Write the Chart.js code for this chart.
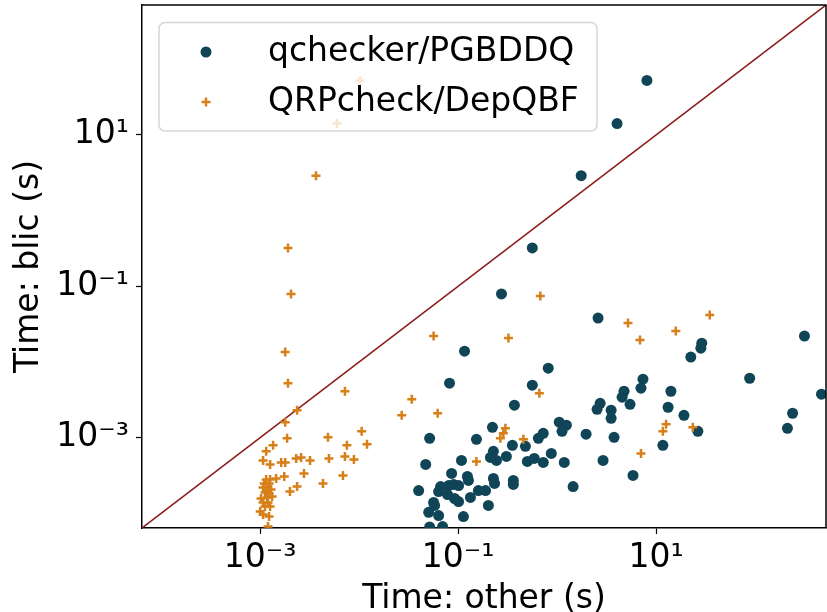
<!DOCTYPE html>
<html>
<head>
<meta charset="utf-8">
<script src="https://cdn.jsdelivr.net/npm/chart.js@4.4.1/dist/chart.umd.min.js"></script>
<style>
  html, body { margin: 0; padding: 0; background: #fff; }
  #wrap { width: 827px; height: 612px; }
</style>
</head>
<body>
<div id="wrap"><canvas id="timeChart" width="827" height="612"></canvas></div>
<script>
// qchecker/PGBDDQ times (other, blic)
var qcheckerX = [
  8.07, 4.03, 1.75, 0.561, 0.274, 2.59, 0.116, 0.813, 0.0818, 0.561,
  4.74, 4.53, 7.36, 7.03, 14.1, 22.4, 28.3, 28.9, 88.1, 315,
  468, 0.370, 5.45, 2.72, 2.53, 3.51, 3.51, 13.2, 19.1, 239,
  212, 26.4, 11.7, 3.76, 2.91, 5.84, 1.96, 1.18, 1.45, 1.05,
  1.24, 1.12, 0.724, 0.646, 0.873, 0.724, 0.478, 0.587, 0.500, 0.353,
  0.307, 0.361, 0.361, 0.222, 0.153, 0.227, 0.212, 0.244, 0.227, 0.233,
  0.108, 0.0859, 0.124, 0.127, 0.0515, 0.0470, 0.0399, 0.0665, 0.0635, 0.0800,
  0.0900, 0.101, 0.0782, 0.0920, 0.101, 0.133, 0.160, 0.189, 0.202, 0.0565,
  0.0578, 0.0504, 0.0635, 0.113, 0.0515, 0.0697
];
var qcheckerY = [
  52.4, 14.1, 2.89, 0.321, 0.0791, 0.0380, 0.0139, 0.00828, 0.00524, 0.00493,
  0.00410, 0.00342, 0.00592, 0.00450, 0.00410, 0.0116, 0.0152, 0.0177, 0.00609, 0.0220,
  0.00375, 0.00268, 0.00276, 0.00284, 0.00237, 0.00230, 0.00180, 0.00252, 0.00197, 0.00210,
  0.00133, 0.00121, 0.000791, 0.00101, 0.000500, 0.000317, 0.00111, 0.000471, 0.000226, 0.00160,
  0.00146, 0.00121, 0.00114, 0.000979, 0.000619, 0.000471, 0.000767, 0.000532, 0.000485, 0.000791,
  0.000565, 0.000272, 0.000241, 0.00137, 0.000949, 0.000659, 0.000548, 0.000500, 0.000289, 0.000248,
  0.000500, 0.000337, 0.000307, 0.000272, 0.000979, 0.000443, 0.000200, 0.000226, 0.000194, 0.000233,
  0.000241, 0.000233, 0.000177, 0.000157, 0.000143, 0.000162, 0.000200, 0.000200, 0.000127, 0.000139,
  0.000127, 0.000103, 0.0000935, 0.0000907, 0.0000660, 0.0000669
];

// QRPcheck/DepQBF times (other, blic)
var qrpX = [
  0.0102, 0.00596, 0.00366, 0.00191, 0.00205, 0.00179, 0.00191, 0.00718, 0.0565, 0.0340,
  0.676, 0.322, 5.20, 6.87, 15.8, 34.8, 0.661, 0.0269, 0.0621, 0.300,
  0.286, 0.267, 0.456, 0.153, 12.6, 11.7, 23.5, 7.03, 0.00236, 0.00179,
  0.00187, 0.00484, 0.0106, 0.00752, 0.0120, 0.00495, 0.00718, 0.00885, 0.00135, 0.00115,
  0.00107, 0.00126, 0.00163, 0.00179, 0.00231, 0.00259, 0.00319, 0.00277, 0.00686, 0.00431,
  0.00175, 0.00145, 0.00236, 0.00200, 0.00115, 0.00126, 0.00110, 0.00123, 0.00107, 0.00118,
  0.00129, 0.00112, 0.00123, 0.00102, 0.00118, 0.00132, 0.00107, 0.00120, 0.00112, 0.00126,
  0.00100, 0.00107, 0.00123, 0.00120
];
var qrpY = [
  52.4, 14.1, 2.89, 0.321, 0.0791, 0.0135, 0.00524, 0.00410, 0.0220, 0.00321,
  0.0745, 0.0207, 0.0327, 0.0195, 0.0256, 0.0417, 0.00386, 0.00197, 0.00210, 0.00133,
  0.00114, 0.000979, 0.000949, 0.000485, 0.00150, 0.00121, 0.00137, 0.000619, 0.00230, 0.00160,
  0.000979, 0.00101, 0.00121, 0.000791, 0.000815, 0.000532, 0.000565, 0.000516, 0.000791, 0.000659,
  0.000500, 0.000443, 0.000471, 0.000471, 0.000532, 0.000548, 0.000500, 0.000337, 0.000317, 0.000248,
  0.000307, 0.000289, 0.000226, 0.000194, 0.000280, 0.000280, 0.000248, 0.000248, 0.000220, 0.000220,
  0.000207, 0.000189, 0.000183, 0.000157, 0.000162, 0.000167, 0.000139, 0.000139, 0.000123, 0.000123,
  0.000106, 0.0000964, 0.0000907, 0.0000669
];

var axisRange = [6.4e-5, 520];
var tickValues = [1e-3, 1e-1, 1e1];
var tickLabels = ['10\u207B\u00B3', '10\u207B\u00B9', '10\u00B9'];

var toPoints = function(xs, ys) {
  let pts = [];
  xs.forEach((x, i) => {
    pts.push({x: x, y: ys[i]});
  });
  return pts;
};

Chart.defaults.font.family = "'DejaVu Sans', sans-serif";
Chart.defaults.color = '#000';

// top and right spines
var frame = {
  id: 'frame',
  afterDatasetsDraw: function(chart) {
    var a = chart.chartArea, ctx = chart.ctx;
    ctx.save();
    ctx.strokeStyle = '#000';
    ctx.lineWidth = 1.5;
    ctx.beginPath();
    ctx.moveTo(a.left, a.top);
    ctx.lineTo(a.right, a.top);
    ctx.lineTo(a.right, a.bottom);
    ctx.stroke();
    ctx.restore();
  }
};

// matplotlib style legend box in upper left
var legendBox = {
  id: 'legendBox',
  afterDatasetsDraw: function(chart) {
    var ctx = chart.ctx;
    var x = 159, y = 22.5, w = 438, h = 108.5, r = 6;
    ctx.save();
    ctx.beginPath();
    ctx.moveTo(x + r, y);
    ctx.lineTo(x + w - r, y);
    ctx.arcTo(x + w, y, x + w, y + r, r);
    ctx.lineTo(x + w, y + h - r);
    ctx.arcTo(x + w, y + h, x + w - r, y + h, r);
    ctx.lineTo(x + r, y + h);
    ctx.arcTo(x, y + h, x, y + h - r, r);
    ctx.lineTo(x, y + r);
    ctx.arcTo(x, y, x + r, y, r);
    ctx.closePath();
    ctx.fillStyle = 'rgba(255,255,255,0.8)';
    ctx.fill();
    ctx.strokeStyle = 'rgba(204,204,204,0.8)';
    ctx.lineWidth = 1.5;
    ctx.stroke();

    var rows = [52, 102];
    [0, 1].forEach(i => {
      var ds = chart.data.datasets[i];
      ctx.fillStyle = ds.backgroundColor;
      ctx.strokeStyle = ds.borderColor;
      ctx.lineWidth = ds.borderWidth;
      Chart.helpers.drawPoint(ctx, {
        pointStyle: ds.pointStyle, rotation: 0,
        radius: ds.pointRadius, borderWidth: ds.borderWidth
      }, 206, rows[i]);
      ctx.fillStyle = '#000';
      ctx.font = "33px 'DejaVu Sans'";
      ctx.textAlign = 'left';
      ctx.textBaseline = 'alphabetic';
      ctx.fillText(ds.label, 268, rows[i] + 8.5);
    });
    ctx.restore();
  }
};

var logAxis = function(title, titlePad, horizontal) {
  return {
    type: 'logarithmic',
    min: axisRange[0],
    max: axisRange[1],
    afterBuildTicks: function(scale) {
      scale.ticks = tickValues.map(v => ({value: v}));
    },
    afterFit: function(scale) {
      if (horizontal) scale.height = 84;
      else scale.width = 142;
      scale.paddingTop = 0;
      scale.paddingBottom = 0;
      scale.paddingLeft = 0;
      scale.paddingRight = 0;
    },
    ticks: {
      font: {size: 33, lineHeight: 1.2},
      color: '#000',
      padding: horizontal ? 5 : 7,
      maxRotation: 0,
      autoSkip: false,
      callback: function(value) {
        var i = tickValues.indexOf(value);
        return i >= 0 ? tickLabels[i] : '';
      }
    },
    grid: {
      display: true,
      drawOnChartArea: false,
      drawTicks: true,
      tickLength: 6,
      tickWidth: 1.2,
      color: '#000'
    },
    border: {display: true, color: '#000', width: 1.5},
    title: {
      display: true,
      text: title,
      color: '#000',
      font: {size: 33, lineHeight: 1},
      padding: titlePad
    }
  };
};

var ctx = document.getElementById('timeChart').getContext('2d');
var timeChart = new Chart(ctx, {
  type: 'scatter',
  data: {
    datasets: [{
      label: 'qchecker/PGBDDQ',
      data: toPoints(qcheckerX, qcheckerY),
      pointStyle: 'circle',
      pointRadius: 5.5,
      borderWidth: 0,
      backgroundColor: '#104557',
      borderColor: '#104557',
      clip: 0,
      order: 1
    }, {
      label: 'QRPcheck/DepQBF',
      data: toPoints(qrpX, qrpY),
      pointStyle: 'cross',
      pointRadius: 4.5,
      borderWidth: 2.5,
      backgroundColor: '#d77f18',
      borderColor: '#d77f18',
      clip: 0,
      order: 0
    }, {
      label: 'diagonal',
      data: toPoints(axisRange, axisRange),
      showLine: true,
      pointRadius: 0,
      borderWidth: 1.5,
      borderColor: '#8b1a1a',
      backgroundColor: '#8b1a1a',
      clip: 0,
      order: 2
    }]
  },
  options: {
    responsive: false,
    animation: false,
    devicePixelRatio: 1,
    layout: {autoPadding: false, padding: {top: 5, right: 1, left: 0, bottom: 0}},
    plugins: {
      legend: {display: false},
      tooltip: {enabled: false}
    },
    scales: {
      x: logAxis('Time: other (s)', {top: 0, bottom: -4}, true),
      y: logAxis('Time: blic (s)', {top: 13, bottom: 0}, false)
    }
  },
  plugins: [frame, legendBox]
});
</script>
</body>
</html>
